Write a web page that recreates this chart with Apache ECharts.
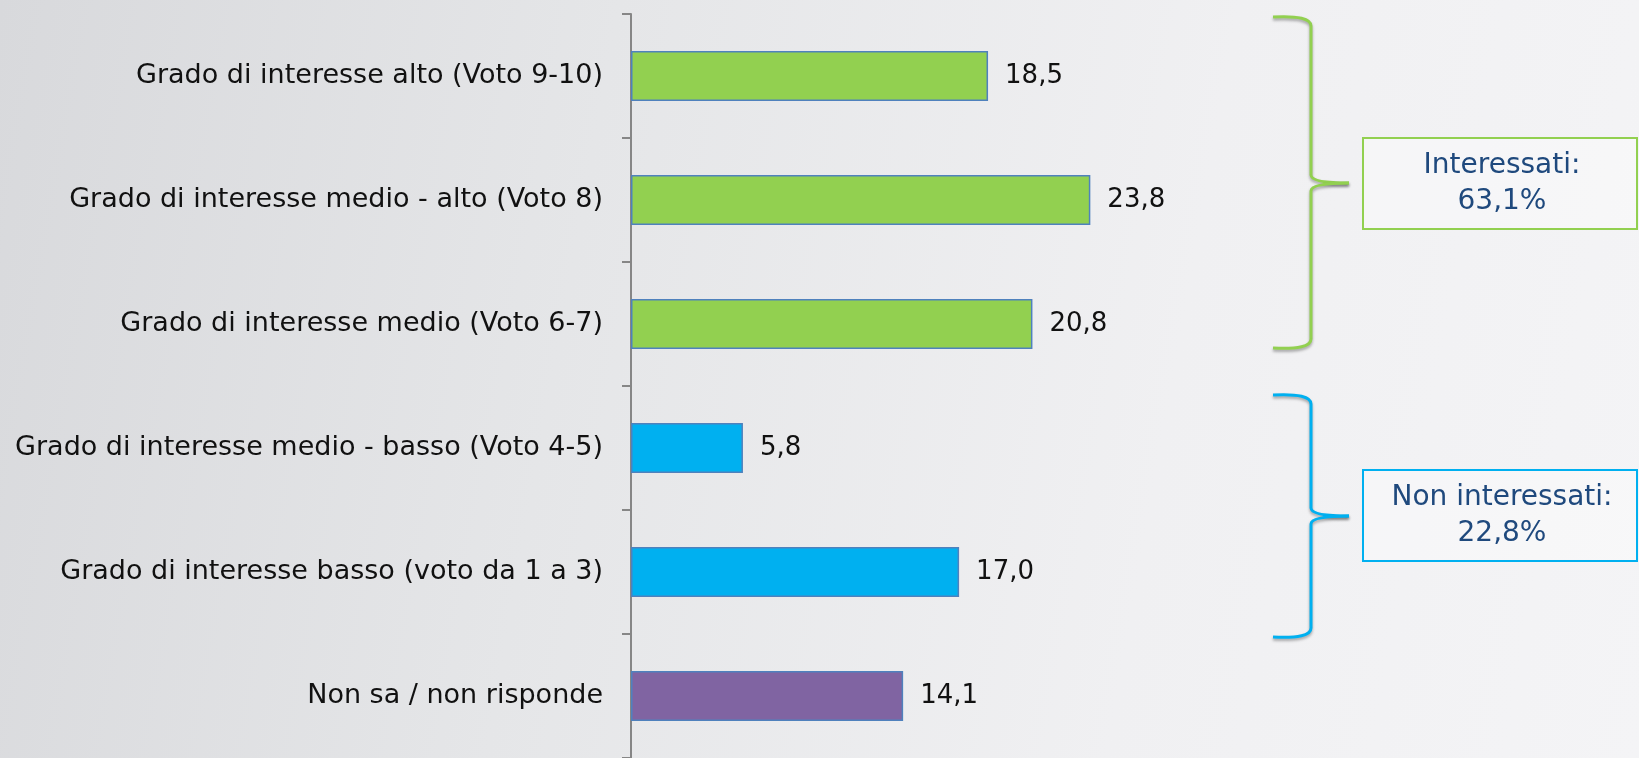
<!DOCTYPE html>
<html>
<head>
<meta charset="utf-8">
<script src="https://cdn.jsdelivr.net/npm/echarts@6/dist/echarts.min.js"></script>
<style>
  html, body { margin: 0; padding: 0; }
  body {
    width: 1639px; height: 758px; overflow: hidden;
    background: linear-gradient(100deg, #d8d9dc 0%, #e5e6e8 35%, #f0f0f2 70%, #f4f4f6 100%);
  }
  #chart { width: 1639px; height: 758px; }
</style>
</head>
<body>
<div id="chart"></div>
<script>
var categories = [
    'Grado di interesse alto (Voto 9-10)',
    'Grado di interesse medio - alto (Voto 8)',
    'Grado di interesse medio (Voto 6-7)',
    'Grado di interesse medio - basso (Voto 4-5)',
    'Grado di interesse basso (voto da 1 a 3)',
    'Non sa / non risponde'
];
var values = [18.5, 23.8, 20.8, 5.8, 17.0, 14.1];
var barColors = ['#92d050', '#92d050', '#92d050', '#00b0f0', '#00b0f0', '#8064a2'];
var groupLabels = ['Interessati:\n63,1%', 'Non interessati:\n22,8%'];

var myChart = echarts.init(document.getElementById('chart'));

// braces on the right, built from curves and lines
function brace(top, tip, bottom, color) {
    var st = {
        fill: 'none', stroke: color, lineWidth: 3,
        shadowBlur: 3, shadowColor: 'rgba(0,0,0,0.35)', shadowOffsetY: 2
    };
    function curve(x1, y1, cx, cy, x2, y2) {
        return { type: 'bezierCurve', shape: { x1: x1, y1: y1, cpx1: cx, cpy1: cy, x2: x2, y2: y2 }, style: st };
    }
    function seg(x1, y1, x2, y2) {
        return { type: 'line', shape: { x1: x1, y1: y1, x2: x2, y2: y2 }, style: st };
    }
    return [
        curve(1273, top, 1311, top - 2, 1311, top + 9),
        seg(1311, top + 9, 1311, tip - 8),
        curve(1311, tip - 8, 1311, tip, 1349, tip),
        curve(1349, tip, 1311, tip, 1311, tip + 8),
        seg(1311, tip + 8, 1311, bottom - 9),
        curve(1311, bottom - 9, 1311, bottom + 2, 1273, bottom)
    ];
}

function box(y, h, color, txt) {
    return [
        {
            type: 'rect',
            shape: { x: 1363, y: y, width: 274, height: h },
            style: { fill: 'rgba(255,255,255,0.35)', stroke: color, lineWidth: 2 }
        },
        {
            type: 'text',
            x: 1502, y: y + h / 2,
            style: {
                text: txt, fill: '#1f497d', fontSize: 28, lineHeight: 36,
                fontFamily: 'DejaVu Sans', align: 'center', verticalAlign: 'middle'
            }
        }
    ];
}

option = {
    backgroundColor: 'transparent',
    animation: false,
    grid: {
        left: 631,
        top: 14,
        width: 579,
        bottom: 0
    },
    xAxis: {
        type: 'value',
        min: 0,
        max: 30,
        show: false
    },
    yAxis: {
        type: 'category',
        inverse: true,
        data: categories,
        axisLine: { show: true, lineStyle: { color: '#868686', width: 2 } },
        axisTick: { show: true, inside: false, length: 9, lineStyle: { color: '#868686', width: 2 } },
        axisLabel: {
            margin: 28,
            color: '#111',
            fontSize: 27,
            fontFamily: 'DejaVu Sans'
        }
    },
    series: [
        {
            type: 'bar',
            barWidth: 50,
            data: values.map(function (v, i) {
                return { value: v, itemStyle: { color: barColors[i] } };
            }),
            itemStyle: { borderColor: '#4f81bd', borderWidth: 1.5 },
            label: {
                show: true,
                position: 'right',
                distance: 17,
                color: '#111',
                fontSize: 26,
                fontFamily: 'DejaVu Sans',
                formatter: function (p) { return p.value.toFixed(1).replace('.', ','); }
            }
        }
    ],
    graphic: brace(17, 183, 348, '#92d050')
        .concat(brace(395, 516, 637, '#00b0f0'))
        .concat(box(138, 91, '#92d050', groupLabels[0]))
        .concat(box(470, 91, '#00b0f0', groupLabels[1]))
};

myChart.setOption(option);
</script>
</body>
</html>
